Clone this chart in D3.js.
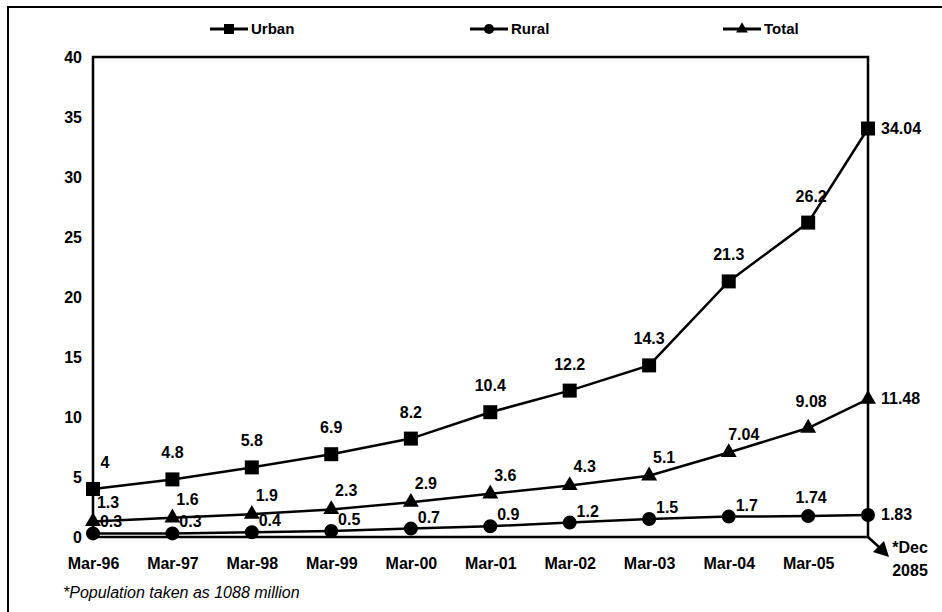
<!DOCTYPE html>
<html>
<head>
<meta charset="utf-8">
<script src="https://cdn.jsdelivr.net/npm/d3@7"></script>
<style>
  body { margin: 0; background: #fff; }
  svg { display: block; font-family: "Liberation Sans", Arial, sans-serif; }
  .axis text { font-size: 16px; font-weight: bold; fill: #000; }
  .val { font-size: 16px; font-weight: bold; fill: #000; }
</style>
</head>
<body>
<svg id="chart" width="942" height="612"></svg>
<script>
/* Urban / Rural / Total line chart, Mar-96 .. Dec-05 */

const dates = ['1996-03', '1997-03', '1998-03', '1999-03', '2000-03', '2001-03',
               '2002-03', '2003-03', '2004-03', '2005-03', '2005-12'];
const tickLabels = ['Mar-96', 'Mar-97', 'Mar-98', 'Mar-99', 'Mar-00', 'Mar-01',
                    'Mar-02', 'Mar-03', 'Mar-04', 'Mar-05'];
const lastTickLabel = ['*Dec', '2085'];
const urban = [4, 4.8, 5.8, 6.9, 8.2, 10.4, 12.2, 14.3, 21.3, 26.2, 34.04];
const rural = [0.3, 0.3, 0.4, 0.5, 0.7, 0.9, 1.2, 1.5, 1.7, 1.74, 1.83];
const total = [1.3, 1.6, 1.9, 2.3, 2.9, 3.6, 4.3, 5.1, 7.04, 9.08, 11.48];
const yTicks = [0, 5, 10, 15, 20, 25, 30, 35, 40];
const footnote = '*Population taken as 1088 million';

const parse = d3.timeParse('%Y-%m');
const svg = d3.select('#chart');

// Plot area
const plot = { left: 93, right: 868, top: 57, bottom: 537 };

const x = d3.scaleTime()
    .domain([parse(dates[0]), parse(dates[dates.length - 1])])
    .range([plot.left, plot.right]);
const y = d3.scaleLinear().domain([0, 40]).range([plot.bottom, plot.top]);

// Outer frame (scan shows left and top edges only)
svg.append('path')
    .attr('d', `M8,612 L8,7 L942,7`)
    .attr('fill', 'none')
    .attr('stroke', '#000')
    .attr('stroke-width', 2);

// Plot border
svg.append('rect')
    .attr('x', plot.left)
    .attr('y', plot.top)
    .attr('width', plot.right - plot.left)
    .attr('height', plot.bottom - plot.top)
    .attr('fill', 'none')
    .attr('stroke', '#000')
    .attr('stroke-width', 2.5);

// Axes
const yAxis = d3.axisLeft(y).tickValues(yTicks).tickSize(0).tickPadding(11);
svg.append('g')
    .attr('class', 'axis')
    .attr('transform', `translate(${plot.left},0)`)
    .call(yAxis)
    .call(g => g.select('.domain').remove());

const xAxis = d3.axisBottom(x)
    .tickValues(dates.slice(0, 10).map(parse))
    .tickFormat((d, i) => tickLabels[i])
    .tickSize(0)
    .tickPadding(21);
svg.append('g')
    .attr('class', 'axis')
    .attr('transform', `translate(0,${plot.bottom})`)
    .call(xAxis)
    .call(g => g.select('.domain').remove());

// Arrow to the Dec label
const ax = x(parse(dates[10])), ay = y(0);
svg.append('line')
    .attr('x1', ax).attr('y1', ay)
    .attr('x2', ax + 12).attr('y2', ay + 11)
    .attr('stroke', '#000').attr('stroke-width', 2.5);
svg.append('path')
    .attr('d', `M${ax + 21},${ay + 20} L${ax + 5},${ay + 15} L${ax + 16},${ay + 4} Z`)
    .attr('fill', '#000');

const decLabel = svg.append('text')
    .attr('class', 'val')
    .attr('text-anchor', 'middle');
lastTickLabel.forEach((t, i) => {
    decLabel.append('tspan')
        .attr('x', ax + 42)
        .attr('y', ay + 16 + i * 23)
        .text(t);
});

// Series
const series = [
    { name: 'Urban', values: urban, shape: d3.symbolSquare, size: 196, legendSize: 100,
      lab: { dx: 0, dy: -21 } },
    { name: 'Rural', values: rural, shape: d3.symbolCircle, size: 154, legendSize: 80,
      lab: { dx: 18, dy: -6 } },
    { name: 'Total', values: total, shape: d3.symbolTriangle, size: 110, legendSize: 60,
      lab: { dx: 15, dy: -13 } }
];

const line = d3.line()
    .x((d, i) => x(parse(dates[i])))
    .y(d => y(d));

series.forEach(s => {
    const g = svg.append('g').attr('class', 'series');

    g.append('path')
        .datum(s.values)
        .attr('d', line)
        .attr('fill', 'none')
        .attr('stroke', '#000')
        .attr('stroke-width', 2.5);

    g.selectAll('.pt')
        .data(s.values)
        .join('path')
        .attr('class', 'pt')
        .attr('transform', (d, i) => `translate(${x(parse(dates[i]))},${y(d)})`)
        .attr('d', d3.symbol().type(s.shape).size(s.size))
        .attr('fill', '#000');

    const n = s.values.length;
    g.selectAll('.val')
        .data(s.values)
        .join('text')
        .attr('class', 'val')
        .attr('text-anchor', (d, i) => i === n - 1 ? 'start' : 'middle')
        .attr('x', (d, i) => {
            const px = x(parse(dates[i]));
            if (i === n - 1) return px + 13;
            if (i === n - 2) return px + 3;
            if (i === 0 && s.name === 'Urban') return px + 12;
            return px + s.lab.dx;
        })
        .attr('y', (d, i) => {
            const py = y(d);
            if (i === n - 1) return py + 5;
            if (i === n - 2) return py + (s.name === 'Rural' ? -13 : -21);
            return py + s.lab.dy;
        })
        .text(d => d);
});

// Legend
const legendX = [210, 470, 723];
const legend = svg.append('g').attr('class', 'legend');
series.forEach((s, i) => {
    const lg = legend.append('g').attr('transform', `translate(${legendX[i]},29)`);
    lg.append('line')
        .attr('x1', 0).attr('x2', 38)
        .attr('stroke', '#000').attr('stroke-width', 3);
    lg.append('path')
        .attr('transform', 'translate(19,0)')
        .attr('d', d3.symbol().type(s.shape).size(s.legendSize))
        .attr('fill', '#000');
    lg.append('text')
        .attr('x', 41)
        .attr('y', 5)
        .attr('font-size', 15)
        .attr('font-weight', 'bold')
        .text(s.name);
});

// Footnote
svg.append('text')
    .attr('x', 63)
    .attr('y', 598)
    .attr('font-size', 16)
    .attr('font-style', 'italic')
    .text(footnote);
</script>
</body>
</html>
